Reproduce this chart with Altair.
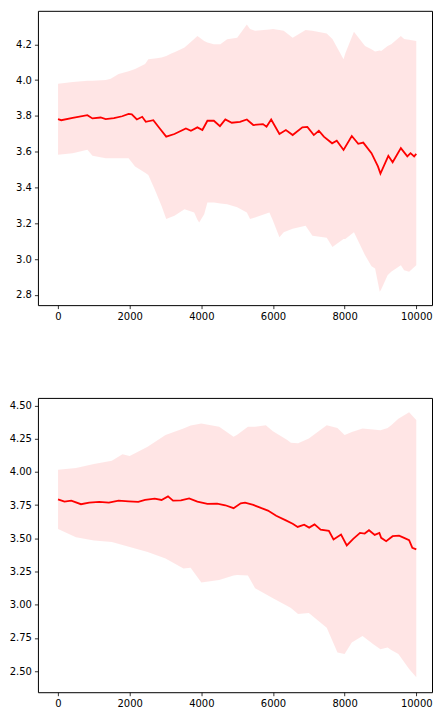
import altair as alt
import pandas as pd

# ---------------- top panel ----------------
top_line_x = [0, 90, 410, 820, 960, 1190, 1330, 1560, 1790, 1970, 2060, 2200, 2350, 2450, 2660,
              2840, 3020, 3250, 3570, 3710, 3890, 4030, 4170, 4350, 4520, 4670, 4850, 5080, 5270,
              5450, 5720, 5820, 5950, 6180, 6360, 6550, 6820, 6960, 7140, 7280, 7420, 7650, 7780,
              7970, 8200, 8380, 8520, 8750, 8930, 9000, 9220, 9340, 9570, 9750, 9840, 9940, 10000]
top_line_y = [3.782, 3.776, 3.789, 3.804, 3.786, 3.791, 3.782, 3.787, 3.798, 3.811, 3.809, 3.780,
              3.795, 3.767, 3.776, 3.730, 3.684, 3.699, 3.730, 3.717, 3.736, 3.721, 3.773, 3.773,
              3.743, 3.780, 3.762, 3.767, 3.780, 3.749, 3.754, 3.739, 3.780, 3.699, 3.721, 3.693,
              3.736, 3.739, 3.693, 3.717, 3.684, 3.647, 3.662, 3.610, 3.688, 3.644, 3.651, 3.592,
              3.518, 3.478, 3.577, 3.541, 3.620, 3.574, 3.592, 3.574, 3.588]

top_band_x = [0, 410, 820, 960, 1330, 1470, 1690, 1970, 2150, 2430, 2520, 2700, 2890, 3020, 3160,
              3250, 3530, 3800, 3890, 3940, 4080, 4170, 4350, 4530, 4720, 5000, 5270, 5360, 5500,
              5900, 6000, 6180, 6300, 6550, 6910, 7100, 7500, 7660, 7970, 8020, 8260, 8570, 8750,
              8850, 8980, 9020, 9200, 9300, 9570, 9660, 9800, 10000]
top_upper = [3.979, 3.990, 3.997, 3.997, 4.000, 4.007, 4.034, 4.050, 4.062, 4.090, 4.117, 4.120,
             4.126, 4.135, 4.148, 4.155, 4.182, 4.230, 4.246, 4.240, 4.218, 4.210, 4.200, 4.200,
             4.228, 4.237, 4.310, 4.285, 4.275, 4.283, 4.285, 4.280, 4.275, 4.237, 4.280, 4.275,
             4.260, 4.230, 4.117, 4.150, 4.270, 4.190, 4.172, 4.160, 4.165, 4.163, 4.190, 4.200,
             4.246, 4.230, 4.225, 4.218]
top_lower = [3.583, 3.592, 3.611, 3.577, 3.564, 3.564, 3.564, 3.564, 3.518, 3.482, 3.470, 3.389,
             3.297, 3.224, 3.235, 3.242, 3.279, 3.261, 3.220, 3.205, 3.250, 3.316, 3.316, 3.310,
             3.307, 3.290, 3.260, 3.224, 3.233, 3.261, 3.215, 3.122, 3.150, 3.170, 3.187, 3.131,
             3.120, 3.067, 3.113, 3.113, 3.150, 3.021, 2.960, 2.947, 2.818, 2.830, 2.910, 2.930,
             2.966, 2.938, 2.930, 2.966]

# ---------------- bottom panel ----------------
bot_line_x = [0, 180, 370, 640, 870, 1150, 1420, 1690, 1970, 2240, 2430, 2700, 2890, 3070, 3210,
              3430, 3660, 3890, 4170, 4440, 4670, 4900, 5100, 5220, 5450, 5680, 5860, 6090, 6360,
              6550, 6690, 6870, 7010, 7160, 7330, 7560, 7690, 7900, 8060, 8240, 8430, 8560, 8680,
              8840, 8970, 9020, 9160, 9340, 9520, 9660, 9800, 9890, 10000]
bot_line_y = [3.794, 3.776, 3.784, 3.757, 3.769, 3.774, 3.769, 3.784, 3.779, 3.774, 3.789, 3.799,
              3.789, 3.816, 3.784, 3.786, 3.801, 3.776, 3.759, 3.761, 3.749, 3.727, 3.764, 3.769,
              3.752, 3.727, 3.709, 3.670, 3.635, 3.610, 3.586, 3.603, 3.581, 3.605, 3.566, 3.556,
              3.491, 3.529, 3.447, 3.496, 3.541, 3.536, 3.561, 3.526, 3.541, 3.504, 3.479, 3.516,
              3.521, 3.504, 3.486, 3.429, 3.417]

bot_band_x = [0, 500, 1000, 1500, 1800, 2000, 2500, 3000, 3500, 3700, 4000, 4500, 4900, 5000, 5300,
              5500, 5800, 6000, 6400, 6500, 6700, 7000, 7500, 7800, 8000, 8200, 8500, 8800, 9000,
              9200, 9300, 9500, 9800, 10000]
bot_upper = [4.017, 4.03, 4.06, 4.084, 4.133, 4.12, 4.19, 4.277, 4.327, 4.35, 4.364, 4.339, 4.265,
             4.28, 4.339, 4.34, 4.351, 4.307, 4.24, 4.22, 4.215, 4.252, 4.351, 4.33, 4.277, 4.30,
             4.327, 4.32, 4.314, 4.33, 4.351, 4.40, 4.45, 4.39]
bot_lower = [3.571, 3.509, 3.484, 3.472, 3.45, 3.434, 3.397, 3.348, 3.273, 3.278, 3.167, 3.187, 3.22,
             3.224, 3.22, 3.125, 3.08, 3.05, 2.99, 2.976, 2.93, 2.939, 2.827, 2.641, 2.629, 2.716,
             2.765, 2.703, 2.666, 2.678, 2.66, 2.629, 2.517, 2.455]

x_ticks = [0, 2000, 4000, 6000, 8000, 10000]
top_y_ticks = [2.8, 3.0, 3.2, 3.4, 3.6, 3.8, 4.0, 4.2]
bot_y_ticks = [2.50, 2.75, 3.00, 3.25, 3.50, 3.75, 4.00, 4.25, 4.50]


def panel(lx, ly, bx, lo, up, ydom, yticks, yfmt, h):
    line_df = pd.DataFrame({"x": lx, "y": ly})
    band_df = pd.DataFrame({"x": bx, "lo": lo, "up": up})
    xs = alt.Scale(domain=[-561, 10439], nice=False, zero=False)
    ys = alt.Scale(domain=ydom, nice=False, zero=False)
    xax = alt.Axis(values=x_ticks, format="d", title=None, grid=False, labelOverlap=False)
    yax = alt.Axis(values=yticks, format=yfmt, title=None, grid=False, labelOverlap=False)
    band = alt.Chart(band_df).mark_area(color="red", opacity=0.1).encode(
        x=alt.X("x:Q", scale=xs, axis=xax),
        y=alt.Y("lo:Q", scale=ys, axis=yax),
        y2="up:Q",
    )
    line = alt.Chart(line_df).mark_line(color="red", strokeWidth=1.8).encode(
        x=alt.X("x:Q", scale=xs, axis=xax),
        y=alt.Y("y:Q", scale=ys, axis=yax),
    )
    return alt.layer(band, line).properties(width=395, height=h)


top = panel(top_line_x, top_line_y, top_band_x, top_lower, top_upper,
            [2.743, 4.387], top_y_ticks, ".1f", 295)
bot = panel(bot_line_x, bot_line_y, bot_band_x, bot_lower, bot_upper,
            [2.342, 4.557], bot_y_ticks, ".2f", 295)

chart = alt.vconcat(top, bot, spacing=75).properties(
    padding={"left": 0, "top": 1, "right": 0, "bottom": 0}
).configure_view(
    stroke="black", strokeWidth=1
).configure_axis(
    domain=False, tickColor="black", tickSize=3.5, tickWidth=0.8,
    labelColor="black", labelFont="DejaVu Sans", labelFontSize=10, labelPadding=3,
    minExtent=0
)

chart.save("out.html", embed_options={"renderer": "svg", "actions": False})
